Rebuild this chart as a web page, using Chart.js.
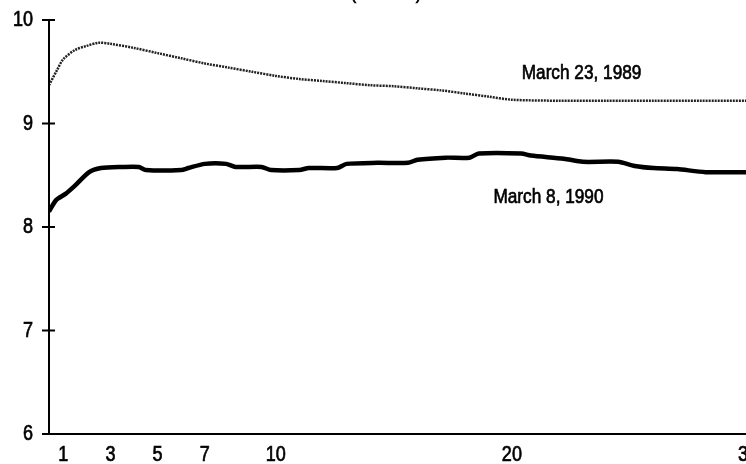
<!DOCTYPE html>
<html>
<head>
<meta charset="utf-8">
<script src="https://cdn.jsdelivr.net/npm/chart.js@4"></script>
<style>
  html, body { margin: 0; padding: 0; background: #fff; overflow: hidden; }
  #wrap { width: 746px; height: 464px; overflow: hidden; }
</style>
</head>
<body>
<div id="wrap"><canvas id="myChart" width="770" height="464"></canvas></div>
<script>
// maturity in years / yield in percent
const maturities1989 = [0.4, 0.75, 1, 1.5, 2, 2.5, 3, 4, 5, 6, 7, 8, 9, 10, 11, 12, 13, 14, 15, 16, 17, 18, 19, 20, 22, 24, 26, 28, 30, 31]
const yields1989 = [9.37, 9.52, 9.62, 9.71, 9.75, 9.78, 9.77, 9.73, 9.68, 9.63, 9.58, 9.54, 9.50, 9.46, 9.43, 9.41, 9.39, 9.37, 9.36, 9.34, 9.32, 9.29, 9.26, 9.23, 9.22, 9.22, 9.22, 9.22, 9.22, 9.22]

const maturities1990 = [0.4, 0.7, 1.1, 1.5, 2.1, 2.6, 3.5, 4.2, 4.5, 6.0, 6.3, 7.0, 7.9, 8.3, 9.4, 9.8, 11.0, 11.4, 12.6, 13.0, 14.3, 15.6, 16.0, 17.2, 18.2, 18.6, 20.4, 20.8, 22.2, 23.0, 24.5, 25.2, 26.0, 27.0, 28.2, 31]
const yields1990 = [8.15, 8.26, 8.32, 8.40, 8.53, 8.57, 8.58, 8.58, 8.55, 8.55, 8.57, 8.61, 8.61, 8.58, 8.58, 8.55, 8.55, 8.57, 8.57, 8.61, 8.62, 8.62, 8.65, 8.67, 8.67, 8.71, 8.71, 8.69, 8.66, 8.63, 8.63, 8.59, 8.57, 8.56, 8.53, 8.53]

const xTickValues = [1, 3, 5, 7, 10, 20, 30]
const yTickValues = [6, 7, 8, 9, 10]

const noteText = ['March 23, 1989', 'March 8, 1990']
const noteX = [22.95, 21.55]
const noteY = [9.49, 8.29]

const FONT = "'Liberation Sans', Arial, sans-serif"
Chart.defaults.font.family = FONT
Chart.defaults.color = '#000'

const toPoints = (xs, ys) => xs.map((x, i) => ({ x: x, y: ys[i] }))

// narrow, slightly heavy text, like the condensed face of the original
const narrowText = (ctx, text, x, y, size, align) => {
  ctx.save()
  ctx.font = size + 'px ' + FONT
  ctx.textAlign = align
  ctx.translate(x, y)
  ctx.scale(0.82, 1)
  ctx.lineWidth = 0.7
  ctx.strokeStyle = '#000'
  ctx.fillText(text, 0, 0)
  ctx.strokeText(text, 0, 0)
  ctx.restore()
}

// axes with cross ticks, tick labels, notes and clipped heading
const decorations = {
  id: 'decorations',
  afterDraw(chart) {
    const ctx = chart.ctx
    const xs = chart.scales.x
    const ys = chart.scales.y
    const area = chart.chartArea
    ctx.save()
    ctx.strokeStyle = '#000'
    ctx.lineWidth = 2
    ctx.beginPath()
    ctx.moveTo(area.left, ys.getPixelForValue(10))
    ctx.lineTo(area.left, ys.getPixelForValue(6))
    ctx.moveTo(area.left - 7, ys.getPixelForValue(6))
    ctx.lineTo(area.right, ys.getPixelForValue(6))
    yTickValues.forEach(v => {
      const py = ys.getPixelForValue(v)
      ctx.moveTo(area.left - 7, py)
      ctx.lineTo(area.left + 6, py)
    })
    ctx.stroke()

    ctx.fillStyle = '#000'
    ctx.textBaseline = 'middle'
    yTickValues.forEach(v => {
      narrowText(ctx, String(v), area.left - 16, ys.getPixelForValue(v), 22, 'right')
    })
    xTickValues.forEach(v => {
      narrowText(ctx, String(v), xs.getPixelForValue(v), area.bottom + 21, 22, 'center')
    })
    noteText.forEach((t, i) => {
      narrowText(ctx, t, xs.getPixelForValue(noteX[i]), ys.getPixelForValue(noteY[i]), 21, 'center')
    })

    // heading sits above the crop; only the foot of the brackets shows
    ctx.textBaseline = 'alphabetic'
    narrowText(ctx, '(Percent)', 386, -1.5, 21, 'center')
    ctx.restore()
  }
}

const config = {
  type: 'line',
  data: {
    datasets: [
      {
        label: 'March 23, 1989',
        data: toPoints(maturities1989, yields1989),
        borderColor: '#222',
        borderWidth: 2.5,
        borderDash: [2, 1],
        tension: 0.3,
        pointRadius: 0
      },
      {
        label: 'March 8, 1990',
        data: toPoints(maturities1990, yields1990),
        borderColor: '#000',
        borderWidth: 4.5,
        tension: 0.25,
        pointRadius: 0
      }
    ]
  },
  options: {
    responsive: false,
    animation: false,
    layout: { padding: { top: 20, left: 0, right: 0, bottom: 0 } },
    plugins: {
      legend: { display: false },
      tooltip: { enabled: false }
    },
    scales: {
      x: {
        type: 'linear',
        min: 0.4,
        max: 30.93,
        afterBuildTicks: scale => { scale.ticks = xTickValues.map(v => ({ value: v })) },
        afterFit: scale => { scale.height = 30 },
        ticks: { display: false },
        grid: { display: false, drawTicks: false },
        border: { display: false }
      },
      y: {
        min: 6,
        max: 10,
        afterBuildTicks: scale => { scale.ticks = yTickValues.map(v => ({ value: v })) },
        afterFit: scale => { scale.width = 49 },
        ticks: { display: false },
        grid: { display: false, drawTicks: false },
        border: { display: false }
      }
    }
  },
  plugins: [decorations]
}

new Chart(document.getElementById('myChart'), config)
</script>
</body>
</html>
